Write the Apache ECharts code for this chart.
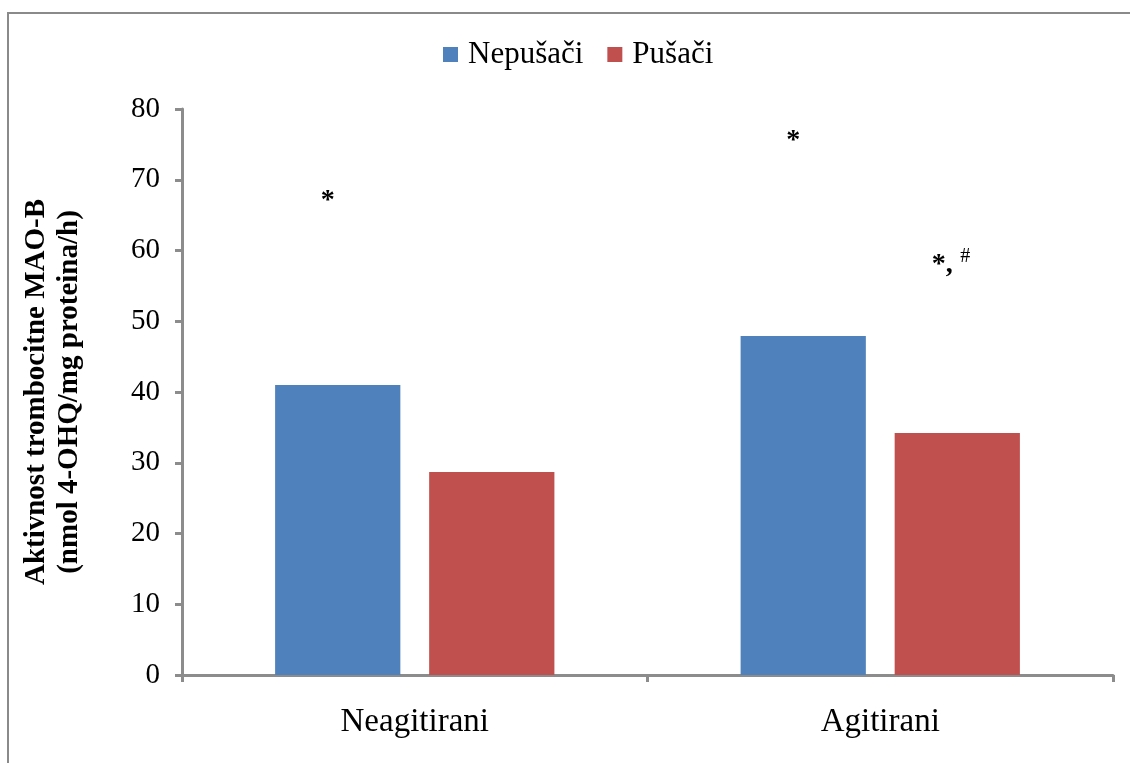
<!DOCTYPE html>
<html>
<head>
<meta charset="utf-8">
<script src="https://cdn.jsdelivr.net/npm/echarts@6/dist/echarts.min.js"></script>
<style>
html,body{margin:0;padding:0;background:#fff;}
#chart{width:1130px;height:763px;}
</style>
</head>
<body>
<div id="chart"></div>
<script>
var categories = ['Neagitirani', 'Agitirani'];
var seriesNames = ['Nepušači', 'Pušači'];
var nepusaci = [41.0, 47.9];
var pusaci = [28.7, 34.2];
var yTicks = [0, 10, 20, 30, 40, 50, 60, 70, 80];
var yTitle = ['Aktivnost trombocitne MAO-B', '(nmol 4-OHQ/mg proteina/h)'];
// significance annotations: [category index, y position (value units), text]
var annotNepusaci = [[0, 67.1, '*'], [1, 75.5, '*']];
var annotPusaci = [[1, 58.0, '*,']];
var annotPusaciSup = [[1, 58.0, '#']];

var FONT = "'Liberation Serif', 'Times New Roman', serif";
var AXIS_COLOR = '#8c8c8c';

function markData(arr, labelExtra) {
  return arr.map(function (a) {
    var item = { coord: [a[0], a[1]], value: a[2] };
    if (labelExtra) item.label = labelExtra;
    return item;
  });
}

var markBase = {
  symbol: 'circle',
  symbolSize: 1,
  itemStyle: { color: 'rgba(0,0,0,0)' },
  silent: true,
  animation: false
};

var chart = echarts.init(document.getElementById('chart'), null, { renderer: 'canvas' });
chart.setOption({
  animation: false,
  backgroundColor: '#ffffff',
  textStyle: { fontFamily: FONT },
  graphic: [{
    type: 'rect',
    shape: { x: 8, y: 13, width: 1300, height: 1000 },
    style: { fill: 'none', stroke: '#8a8a8a', lineWidth: 2 },
    z: -1, silent: true
  }],
  legend: {
    data: seriesNames,
    top: 34,
    left: 438,
    itemWidth: 15,
    itemHeight: 15,
    itemGap: 24,
    icon: 'rect',
    textStyle: { fontFamily: FONT, fontSize: 31, color: '#000', padding: [0, 0, 0, 5] }
  },
  grid: { left: 182, right: 17, top: 109, bottom: 88, containLabel: false },
  xAxis: {
    type: 'category',
    data: categories,
    axisLine: { lineStyle: { color: AXIS_COLOR, width: 3 } },
    axisTick: { show: true, length: 7, lineStyle: { color: AXIS_COLOR, width: 3 } },
    axisLabel: { fontFamily: FONT, fontSize: 33, color: '#000', margin: 31 }
  },
  yAxis: {
    type: 'value',
    min: yTicks[0],
    max: yTicks[yTicks.length - 1],
    interval: yTicks[1] - yTicks[0],
    splitLine: { show: false },
    axisLine: { show: true, lineStyle: { color: AXIS_COLOR, width: 3 } },
    axisTick: { show: true, length: 7, lineStyle: { color: AXIS_COLOR, width: 3 } },
    axisLabel: { fontFamily: FONT, fontSize: 29, color: '#000', margin: 22 },
    name: yTitle.join('\n'),
    nameLocation: 'middle',
    nameGap: 96,
    nameRotate: 90,
    nameTextStyle: { fontFamily: FONT, fontSize: 29, fontWeight: 'bold', color: '#000', lineHeight: 33, align: 'center' }
  },
  series: [{
    name: seriesNames[0],
    type: 'bar',
    data: nepusaci,
    itemStyle: { color: '#4F81BD' },
    barGap: '23%',
    barCategoryGap: '40%',
    markPoint: Object.assign({}, markBase, {
      label: { show: true, position: 'inside', formatter: '{c}', color: '#000', fontFamily: FONT, fontSize: 28, fontWeight: 'bold', offset: [-10, 0] },
      data: markData(annotNepusaci)
    })
  }, {
    name: seriesNames[1],
    type: 'bar',
    data: pusaci,
    itemStyle: { color: '#C0504D' },
    barGap: '23%',
    barCategoryGap: '40%',
    markPoint: Object.assign({}, markBase, {
      label: { show: true, position: 'inside', formatter: '{c}', color: '#000', fontFamily: FONT, fontSize: 28, fontWeight: 'bold', offset: [-15, 0] },
      data: markData(annotPusaci).concat(markData(annotPusaciSup, {
        show: true, position: 'inside', formatter: '{c}', color: '#000', fontFamily: FONT, fontSize: 20, fontWeight: 'normal', offset: [8, -8]
      }))
    })
  }]
});
</script>
</body>
</html>
